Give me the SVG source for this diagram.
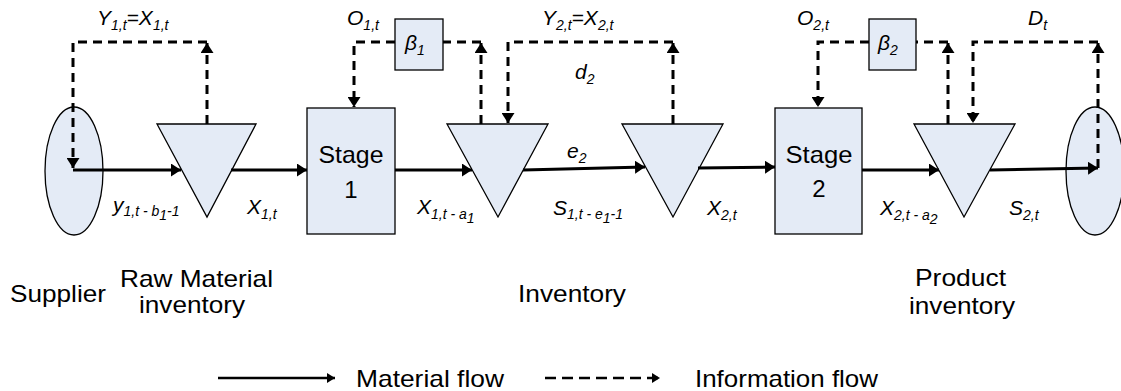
<svg xmlns="http://www.w3.org/2000/svg" width="1121" height="391" viewBox="0 0 1121 391">
  <style>
    .shape { fill: #E4EBF6; stroke: #000; stroke-width: 1.3; }
    .mat { fill: none; stroke: #000; stroke-width: 3; marker-end: url(#head); }
    .info { fill: none; stroke: #000; stroke-width: 3; stroke-dasharray: 9 6; }
    .info.end { marker-end: url(#head); }
    .lbl { font-family: "Liberation Sans", Arial, sans-serif; font-size: 24px; fill: #000; }
    .m { font-family: "Liberation Sans", Arial, sans-serif; font-style: italic; font-size: 21px; fill: #000; }
    .s { font-size: 14px; }
  </style>
  <defs>
    <marker id="head" markerUnits="userSpaceOnUse" markerWidth="11" markerHeight="13" refX="10" refY="6.5" orient="auto">
      <path d="M0,0 L10,6.5 L0,13 z" fill="#000"/>
    </marker>
    <marker id="small" markerUnits="userSpaceOnUse" markerWidth="9" markerHeight="11" refX="8" refY="5" orient="auto">
      <path d="M0,0 L8,5 L0,10 z" fill="#000"/>
    </marker>
  </defs>

  <!-- nodes -->
  <g id="supplier">
    <ellipse class="shape" cx="74" cy="171" rx="29" ry="64"/>
  </g>
  <g id="customer">
    <ellipse class="shape" cx="1095" cy="171" rx="29" ry="64"/>
  </g>
  <g id="raw-inventory">
    <polygon class="shape" points="157,124 256,124 207,217"/>
  </g>
  <g id="stage1">
    <rect class="shape" x="307" y="108" width="88" height="126"/>
    <text class="lbl" x="351" y="163" text-anchor="middle" textLength="65" lengthAdjust="spacingAndGlyphs">Stage</text>
    <text class="lbl" x="351" y="198" text-anchor="middle">1</text>
  </g>
  <g id="beta1">
    <rect class="shape" x="395" y="19" width="48" height="51"/>
    <text class="m" x="405" y="50">β<tspan class="s" dy="5">1</tspan></text>
  </g>
  <g id="inventory-in">
    <polygon class="shape" points="447,124 548,124 498,217"/>
  </g>
  <g id="inventory-out">
    <polygon class="shape" points="622,124 723,124 673,217"/>
  </g>
  <g id="stage2">
    <rect class="shape" x="775" y="108" width="87" height="126"/>
    <text class="lbl" x="819" y="163" text-anchor="middle" textLength="67" lengthAdjust="spacingAndGlyphs">Stage</text>
    <text class="lbl" x="819" y="197" text-anchor="middle">2</text>
  </g>
  <g id="beta2">
    <rect class="shape" x="869" y="19" width="47" height="51"/>
    <text class="m" x="878" y="50">β<tspan class="s" dy="5">2</tspan></text>
  </g>
  <g id="product-inventory">
    <polygon class="shape" points="914,124 1015,124 964,217"/>
  </g>

  <!-- connectors -->
  <g id="connectors">
    <!-- material flow -->
    <line class="mat" x1="73" y1="170" x2="181" y2="170"/>
    <line class="mat" x1="231" y1="170" x2="307" y2="170"/>
    <line class="mat" x1="395" y1="170" x2="472" y2="170"/>
    <line class="mat" x1="523" y1="170" x2="645" y2="167"/>
    <line class="mat" x1="698" y1="168" x2="775" y2="167"/>
    <line class="mat" x1="862" y1="170" x2="939" y2="170"/>
    <line class="mat" x1="990" y1="170" x2="1098" y2="168"/>

    <!-- information flow -->
    <path class="info end" d="M207,124 V43"/>
    <path class="info end" d="M207,42 H73 V168"/>

    <path class="info end" d="M481,124 V43"/>
    <path class="info" d="M481,42 H443"/>
    <path class="info end" d="M395,42 H354 V107"/>

    <path class="info end" d="M673,124 V43"/>
    <path class="info end" d="M673,42 H508 V123"/>

    <path class="info end" d="M948,124 V43"/>
    <path class="info" d="M948,42 H916"/>
    <path class="info end" d="M869,42 H818 V107"/>

    <path class="info end" d="M1098,168 V43"/>
    <path class="info end" d="M1098,42 H973 V123"/>
  </g>

  <!-- flow variable labels -->
  <g id="variables">
    <text class="m" x="97" y="25">Y<tspan class="s" dy="5">1,t</tspan><tspan dy="-5">=X</tspan><tspan class="s" dy="5">1,t</tspan></text>
    <text class="m" x="347" y="25">O<tspan class="s" dy="5">1,t</tspan></text>
    <text class="m" x="542" y="25">Y<tspan class="s" dy="5">2,t</tspan><tspan dy="-5">=X</tspan><tspan class="s" dy="5">2,t</tspan></text>
    <text class="m" x="575" y="79">d<tspan class="s" dy="5">2</tspan></text>
    <text class="m" x="567" y="158">e<tspan class="s" dy="5">2</tspan></text>
    <text class="m" x="797" y="25">O<tspan class="s" dy="5">2,t</tspan></text>
    <text class="m" x="1028" y="25">D<tspan class="s" dy="5">t</tspan></text>

    <text class="m" x="113" y="212">y<tspan class="s" dy="4">1,t - b</tspan><tspan class="s" dy="4">1</tspan><tspan class="s" dy="-4">-1</tspan></text>
    <text class="m" x="247" y="214">X<tspan class="s" dy="5">1,t</tspan></text>
    <text class="m" x="417" y="214">X<tspan class="s" dy="5">1,t - a</tspan><tspan class="s" dy="4">1</tspan></text>
    <text class="m" x="553" y="215">S<tspan class="s" dy="4">1,t - e</tspan><tspan class="s" dy="4">1</tspan><tspan class="s" dy="-4">-1</tspan></text>
    <text class="m" x="707" y="215">X<tspan class="s" dy="5">2,t</tspan></text>
    <text class="m" x="880" y="215">X<tspan class="s" dy="5">2,t - a</tspan><tspan class="s" dy="4">2</tspan></text>
    <text class="m" x="1009" y="215">S<tspan class="s" dy="5">2,t</tspan></text>
  </g>

  <!-- stage captions -->
  <g id="captions">
    <text class="lbl" x="10" y="302" textLength="96" lengthAdjust="spacingAndGlyphs">Supplier</text>
    <text class="lbl" x="120" y="287" textLength="153" lengthAdjust="spacingAndGlyphs">Raw Material</text>
    <text class="lbl" x="139" y="313" textLength="106" lengthAdjust="spacingAndGlyphs">inventory</text>
    <text class="lbl" x="518" y="302" textLength="108" lengthAdjust="spacingAndGlyphs">Inventory</text>
    <text class="lbl" x="915" y="286" textLength="91" lengthAdjust="spacingAndGlyphs">Product</text>
    <text class="lbl" x="909" y="314" textLength="106" lengthAdjust="spacingAndGlyphs">inventory</text>
  </g>

  <!-- legend -->
  <g id="legend">
    <line x1="218" y1="378" x2="335" y2="378" stroke="#000" stroke-width="2.5" marker-end="url(#small)"/>
    <text class="lbl" x="356" y="387" textLength="148" lengthAdjust="spacingAndGlyphs">Material flow</text>
    <line x1="545" y1="378" x2="660" y2="378" stroke="#000" stroke-width="2.5" stroke-dasharray="11 6" marker-end="url(#small)"/>
    <text class="lbl" x="695" y="387" textLength="183" lengthAdjust="spacingAndGlyphs">Information flow</text>
  </g>
</svg>
